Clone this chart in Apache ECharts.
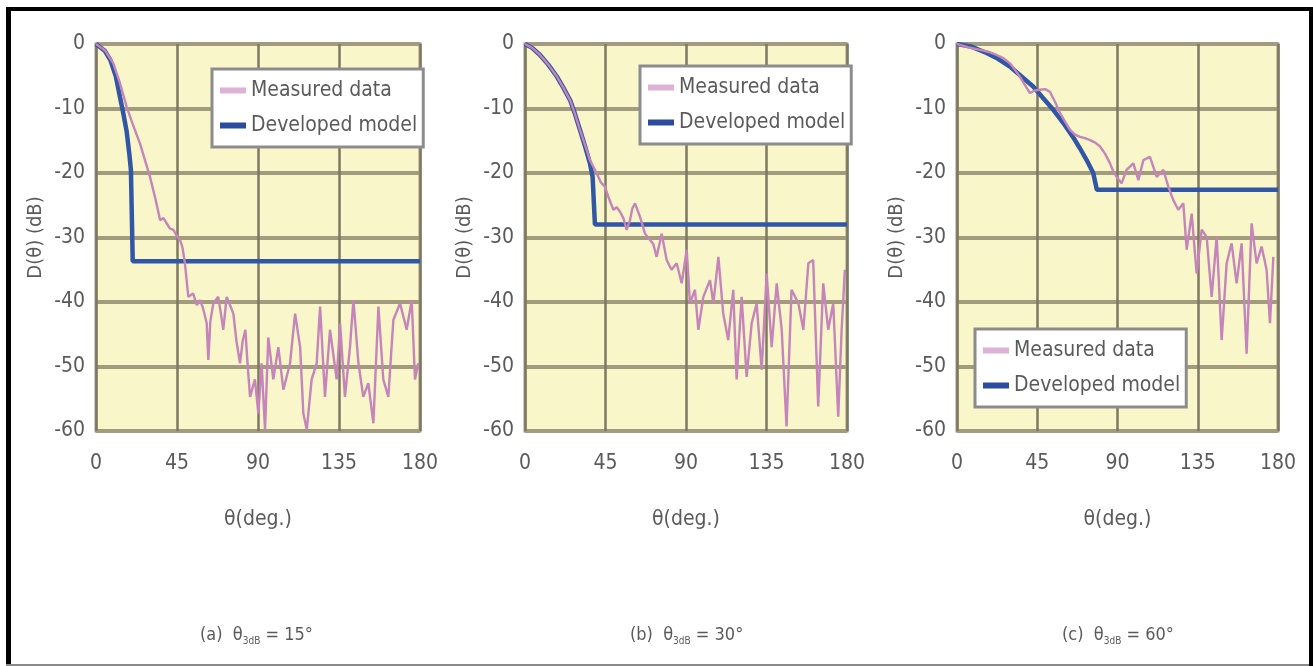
<!DOCTYPE html>
<html>
<head>
<meta charset="utf-8">
<script src="https://cdn.jsdelivr.net/npm/echarts@6/dist/echarts.min.js"></script>
<style>html,body{margin:0;padding:0;background:#fff;}#c{width:1313px;height:666px;}</style>
</head>
<body>
<div id="c"></div>
<script>
// ---- data ----
var xTicks = [0, 45, 90, 135, 180];
var yTicks = [0, -10, -20, -30, -40, -50, -60];
var seriesNames = ['Measured data', 'Developed model'];
var captions = ['(a)', '(b)', '(c)'];
var beamwidths = ['15°', '30°', '60°'];

// (a) theta_3dB = 15
var modelAx = [0, 5, 8, 11, 13.3, 15, 17, 18.5, 19.4, 20.4, 180];
var modelAy = [0, -1.1, -2.5, -5, -8.2, -10.5, -13.5, -17, -19.5, -33.7, -33.7];
var measAx = [0, 5, 9.6, 13, 17, 20.5, 24.4, 27, 30, 33, 35.6, 37.5, 39.3, 41, 43, 45, 46.7, 48, 49.4, 51.3, 54, 56, 57.8, 59.5, 61.5, 62.4, 63.5, 65.2, 67.9, 69.5, 70.7, 72.6, 74.5, 76.3, 78, 80, 81.5, 83, 84.3, 85.6, 88.3, 90.2, 92, 93.9, 95.7, 98.5, 101.3, 104.1, 107.8, 110.6, 113.4, 115.2, 117.1, 119.8, 122.6, 124.5, 127.2, 130, 133.7, 135.6, 138.3, 141.1, 143, 145.8, 148.5, 151.3, 154.1, 156.9, 159.6, 162.4, 165.2, 168.9, 172.6, 175.4, 177.2, 179];
var measAy = [0, -1, -3, -5.8, -9.7, -12.5, -15.4, -17.8, -20.6, -24, -27.3, -27.0, -27.8, -28.6, -28.8, -29.8, -30.4, -31.5, -34, -39.2, -38.7, -40.5, -39.7, -41, -43.3, -49, -43, -40.2, -39.2, -42, -44.3, -39.2, -40.5, -41.8, -46, -49.5, -46, -44.3, -50, -54.7, -52, -57.3, -49.5, -59.8, -45.5, -52, -47, -53.6, -49.5, -41.8, -47, -57.3, -59.8, -52, -49.5, -40.7, -54.7, -44.3, -52, -43.3, -54.7, -47, -39.7, -49.5, -54.7, -52.6, -58.8, -40.7, -52, -54.7, -42.8, -40.2, -44.3, -39.7, -52, -49.5];

// (b) theta_3dB = 30
var modelBx = [0, 4, 8.4, 13, 17.7, 21.5, 25.2, 28, 30.7, 33.5, 36.3, 37.8, 39.1, 180];
var modelBy = [0, -0.6, -1.7, -3.2, -5, -6.8, -8.7, -10.9, -13.3, -15.8, -18.5, -20.6, -28, -28];
var measBx = [0, 4, 8.4, 13, 17.7, 21.5, 25.2, 28, 30.7, 33.5, 36.3, 40, 42.5, 44.7, 47, 49.4, 51.3, 53.1, 55, 56.8, 58.7, 60, 61.5, 64.3, 67.1, 69.9, 71.7, 73.6, 76.4, 79.2, 81.9, 84.8, 87.6, 90.4, 92.2, 95, 96.9, 99.7, 103.4, 105.3, 108.1, 110.8, 113.6, 116.4, 118.3, 121.1, 123.9, 126.7, 129.5, 132.3, 135.1, 137.9, 140.7, 143.5, 146.2, 149, 152.8, 155.6, 158.4, 161.1, 163.9, 166.7, 169.5, 172.3, 175.1, 177, 178.8];
var measBy = [0, -0.6, -1.7, -3.2, -5, -6.8, -8.7, -10.9, -13.3, -15.6, -18, -20, -21.5, -22.1, -24, -25.7, -25.3, -26, -27, -28.8, -27.3, -25.5, -24.7, -26.8, -29.4, -30.4, -31, -33, -29.4, -33.5, -35, -34, -37.1, -31.9, -40.2, -38.1, -44.3, -39.2, -36.6, -40.2, -33, -41.8, -45.9, -38.1, -52, -39.2, -51.6, -43.3, -40.2, -50.5, -35.6, -47, -37.1, -44.3, -59.3, -38.1, -40.2, -44.3, -34, -33.5, -56.2, -37.1, -44.3, -40.2, -57.8, -44.3, -35];

// (c) theta_3dB = 60
var modelCx = [0, 8, 16.6, 23, 29.7, 36, 42.7, 48, 54, 60, 65, 69, 72.7, 76.4, 78.4, 180];
var modelCy = [0, -0.4, -1.4, -2.3, -3.5, -5, -6.6, -8.3, -10.2, -12.4, -14.4, -16.2, -18, -20, -22.6, -22.6];
var measCx = [0, 6, 12.9, 17.5, 22.2, 26, 29.7, 32.5, 35.3, 38, 40.9, 43.5, 46.5, 49.5, 52.1, 55, 57.8, 60.5, 63.4, 66, 69, 71.8, 74.6, 77.5, 80.2, 83, 85.8, 87.7, 89.5, 92.3, 95.1, 98.9, 101.7, 104.5, 108.2, 112, 115.7, 118.5, 121.3, 124.1, 126.9, 128.8, 131.6, 134.4, 137.2, 140, 142.8, 145.6, 148.4, 151.2, 154, 156.8, 159.6, 162.4, 165.2, 168, 170.8, 173.6, 175.5, 177.4];
var measCy = [0, -0.5, -0.9, -1.2, -1.7, -2.2, -3, -4, -5.1, -6.3, -7.6, -7.2, -7.1, -7.0, -7.4, -9, -10.7, -12, -13.3, -14, -14.4, -14.6, -14.9, -15.3, -15.9, -17, -18.5, -19.8, -20.6, -21.6, -19.5, -18.5, -21.1, -18, -17.5, -20.6, -19.5, -22.1, -24.2, -25.7, -24.7, -31.9, -26.3, -35.6, -28.8, -29.9, -39.2, -29.9, -45.9, -34, -30.9, -37.1, -30.9, -48, -27.8, -34, -31.4, -35, -43.3, -33];

// ---- layout ----
var FONT = "'Liberation Sans Narrow','DejaVu Sans Condensed','Liberation Sans',sans-serif";
var TXT = '#5a5a5a';
var grids = [
  {left: 96, top: 44, width: 324, height: 387},
  {left: 525, top: 44, width: 322, height: 387},
  {left: 957, top: 44, width: 321, height: 387}
];
var legendPos = [
  {left: 212, top: 69},
  {left: 640, top: 66},
  {left: 975, top: 329}
];
var captionLeft = [195, 625, 1057];

function pairs(xs, ys) { return xs.map(function (x, i) { return [x, ys[i]]; }); }
var measured = [pairs(measAx, measAy), pairs(measBx, measBy), pairs(measCx, measCy)];
var model = [pairs(modelAx, modelAy), pairs(modelBx, modelBy), pairs(modelCx, modelCy)];

var option = {
  animation: false,
  backgroundColor: '#ffffff',
  grid: grids.map(function (g) {
    return Object.assign({show: true, backgroundColor: '#F9F6C9', borderColor: '#9C9685', borderWidth: 3, containLabel: false}, g);
  }),
  xAxis: grids.map(function (g, i) {
    return {
      type: 'value', gridIndex: i, min: xTicks[0], max: xTicks[xTicks.length - 1], interval: 45,
      name: 'θ(deg.)', nameLocation: 'middle', nameGap: 78,
      nameTextStyle: {fontFamily: FONT, fontSize: 21, color: TXT},
      axisLine: {show: false}, axisTick: {show: false},
      axisLabel: {fontFamily: FONT, fontSize: 21, color: TXT, margin: 22},
      splitLine: {show: true, lineStyle: {color: '#7E7862', width: 2.5}}
    };
  }),
  yAxis: grids.map(function (g, i) {
    return {
      type: 'value', gridIndex: i, min: yTicks[yTicks.length - 1], max: yTicks[0], interval: 10,
      name: 'D(θ) (dB)', nameLocation: 'middle', nameRotate: 90, nameGap: 50,
      nameTextStyle: {fontFamily: FONT, fontSize: 20, color: TXT},
      axisLine: {show: false}, axisTick: {show: false},
      axisLabel: {fontFamily: FONT, fontSize: 21, color: TXT, margin: 11},
      splitLine: {show: true, lineStyle: {color: '#A39B7E', width: 4}}
    };
  }),
  legend: legendPos.map(function (p, i) {
    return {
      left: p.left, top: p.top, orient: 'vertical',
      data: seriesNames.slice(),
      icon: 'rect', itemWidth: 26, itemHeight: 6, itemGap: 14,
      padding: [11, 6, 11, 8],
      backgroundColor: '#ffffff', borderColor: '#8C8C8C', borderWidth: 3,
      textStyle: {fontFamily: FONT, fontSize: 21, color: TXT},
      selectedMode: false
    };
  }),
  title: captions.map(function (c, i) {
    return {
      text: c + '  {t|θ}{s|3dB} = ' + beamwidths[i],
      left: captionLeft[i], top: 619,
      textStyle: {
        fontFamily: FONT, fontSize: 18, fontWeight: 'normal', color: TXT,
        rich: {
          t: {fontFamily: FONT, fontSize: 18, color: TXT},
          s: {fontFamily: FONT, fontSize: 10, color: TXT, verticalAlign: 'bottom', lineHeight: 22}
        }
      }
    };
  }),
  graphic: [
    {type: 'rect', shape: {x: 6, y: 7, width: 1307, height: 4}, style: {fill: '#000'}, silent: true},
    {type: 'rect', shape: {x: 6, y: 7, width: 5, height: 659}, style: {fill: '#000'}, silent: true},
    {type: 'rect', shape: {x: 1309, y: 7, width: 4, height: 659}, style: {fill: '#000'}, silent: true},
    {type: 'rect', shape: {x: 6, y: 664, width: 1303, height: 2}, style: {fill: '#8a8a8a'}, silent: true}
  ],
  series: []
};

for (var i = 0; i < 3; i++) {
  option.series.push({
    name: seriesNames[1], type: 'line', xAxisIndex: i, yAxisIndex: i,
    data: model[i], showSymbol: false, symbol: 'none',
    lineStyle: {color: '#3156A6', width: 4.5}, itemStyle: {color: '#2A4B9E'}, z: 3
  });
  option.series.push({
    name: seriesNames[0], type: 'line', xAxisIndex: i, yAxisIndex: i,
    data: measured[i], showSymbol: false, symbol: 'none',
    lineStyle: {color: '#C584BA', width: 2.4}, itemStyle: {color: '#DDB2D6'}, z: 4
  });
}

var chart = echarts.init(document.getElementById('c'), null, {renderer: 'canvas'});
chart.setOption(option);
</script>
</body>
</html>
